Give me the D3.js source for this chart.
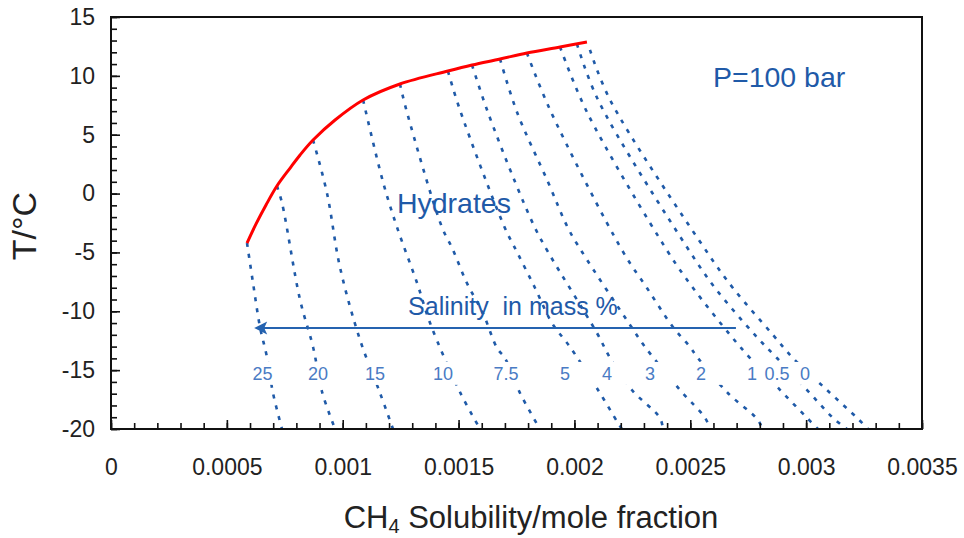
<!DOCTYPE html>
<html>
<head>
<meta charset="utf-8">
<script src="https://cdn.jsdelivr.net/npm/d3@7"></script>
<style>
  body { margin: 0; background: #fff; }
  svg text { font-family: "Liberation Sans", Arial, sans-serif; }
</style>
</head>
<body>
<div id="chart"></div>
<script>
// hydrate / liquid boundary at P = 100 bar  [mole fraction, T degC]
var hydrateCurve = [[0.000587,-4.2],[0.000626,-2.58],[0.000669,-0.97],[0.000716,0.64],[0.000773,2.17],
  [0.000816,3.28],[0.000872,4.55],[0.000967,6.25],[0.001088,7.95],[0.001247,9.31],[0.001454,10.41],
  [0.001558,10.92],[0.001679,11.43],[0.001795,11.94],[0.001938,12.45],[0.002054,12.88]];

// solubility lines for each salinity (mass %)
var sal25 = [[0.000587,-4.2],[0.000613,-7.6],[0.000643,-11.33],[0.000673,-13.88],[0.000699,-16.94],[0.000738,-20]];
var sal20 = [[0.000716,0.64],[0.000738,-0.8],[0.000816,-9.04],[0.000872,-13.03],[0.000911,-16.86],[0.000967,-20]];
var sal15 = [[0.000872,4.55],[0.000932,0.05],[0.000988,-6.24],[0.001075,-12.44],[0.001161,-16.94],[0.001217,-20]];
var sal10 = [[0.001088,7.95],[0.001174,0.98],[0.001234,-2.84],[0.001321,-7.6],[0.001377,-11.0],[0.001506,-16.86],[0.001593,-20]];
var sal7_5 = [[0.001247,9.31],[0.001277,6.93],[0.001428,-2.84],[0.001472,-4.62],[0.001536,-7.6],[0.001605,-10.15],
  [0.001666,-13.12],[0.001700,-13.97],[0.001765,-16.94],[0.001851,-20]];
var sal5 = [[0.001454,10.41],[0.001506,7.1],[0.001700,-2.92],[0.001752,-4.96],[0.001830,-8.02],[0.001903,-11.0],
  [0.001981,-13.03],[0.002102,-16.69],[0.002188,-19.49],[0.002205,-20]];
var sal4 = [[0.001558,10.92],[0.001623,7.1],[0.001744,0.98],[0.001830,-2.92],[0.001886,-4.96],[0.002097,-11.84],
  [0.002154,-13.97],[0.002248,-16.69],[0.002369,-19.06],[0.002382,-20]];
var sal3 = [[0.001679,11.43],[0.001752,6.93],[0.001886,0.98],[0.001972,-2.92],[0.002033,-4.96],[0.002240,-11.16],
  [0.002305,-13.03],[0.002456,-16.69],[0.002564,-19.06],[0.002585,-20]];
var sal2 = [[0.001795,11.94],[0.001895,7.1],[0.002210,-4.96],[0.002313,-8.02],[0.002425,-11.33],[0.002499,-13.03],
  [0.002533,-13.97],[0.002662,-16.94],[0.002792,-19.23],[0.002810,-20]];
var sal1 = [[0.001938,12.45],[0.002054,6.93],[0.002404,-4.96],[0.002512,-8.02],[0.002672,-12.01],[0.002758,-13.97],
  [0.002888,-16.69],[0.003004,-19.06],[0.003051,-20]];
var sal0_5 = [[0.002011,12.7],[0.002102,7.95],[0.002499,-4.96],[0.002607,-8.02],[0.002779,-12.01],[0.002874,-13.97],
  [0.003004,-16.69],[0.003116,-19.06],[0.003176,-20]];
var sal0 = [[0.002067,12.2],[0.002154,7.95],[0.002572,-4.96],[0.002684,-8.02],[0.002857,-12.01],[0.002943,-13.97],
  [0.003090,-16.69],[0.003220,-19.06],[0.003267,-20]];

var salinityLabels = ["25","20","15","10","7.5","5","4","3","2","1","0.5","0"];
var labelX = [0.000654,0.000893,0.001139,0.001433,0.001705,0.001959,0.002141,0.002326,0.002546,0.002766,0.002874,0.002995];
var labelT = -15.25;

var xTicks = [0, 0.0005, 0.001, 0.0015, 0.002, 0.0025, 0.003, 0.0035];
var xTickLabels = ["0","0.0005","0.001","0.0015","0.002","0.0025","0.003","0.0035"];
var yTicks = [-20, -15, -10, -5, 0, 5, 10, 15];
var yTickLabels = ["-20","-15","-10","-5","0","5","10","15"];

var salinityLines = [sal25, sal20, sal15, sal10, sal7_5, sal5, sal4, sal3, sal2, sal1, sal0_5, sal0];

var svgWidth = 964, svgHeight = 538;
var margin = {top: 17, right: 42, bottom: 109, left: 111};
var width = svgWidth - margin.left - margin.right;
var height = svgHeight - margin.top - margin.bottom;

var svg = d3.select("#chart").append("svg")
  .attr("width", svgWidth)
  .attr("height", svgHeight);

var chartGroup = svg.append("g")
  .attr("transform", `translate(${margin.left}, ${margin.top})`);

var x = d3.scaleLinear().domain([0, 0.0035]).range([0, width]);
var y = d3.scaleLinear().domain([-20, 15]).range([height, 0]);

var blue = "#1f5aa8";

// salinity lines (dotted)
var line = d3.line()
  .x(d => x(d[0]))
  .y(d => y(d[1]))
  .curve(d3.curveCatmullRom.alpha(0.5));

chartGroup.append("g").selectAll("path")
  .data(salinityLines)
  .enter()
  .append("path")
  .attr("d", line)
  .attr("fill", "none")
  .attr("stroke", blue)
  .attr("stroke-width", 2.6)
  .attr("stroke-dasharray", "4,7");

// white band behind the salinity numbers
chartGroup.append("rect")
  .attr("x", x(0.000600))
  .attr("y", y(-14.3))
  .attr("width", x(0.003050) - x(0.000600))
  .attr("height", y(-16.25) - y(-14.3))
  .attr("fill", "#fff");

chartGroup.append("g").selectAll("text")
  .data(salinityLabels)
  .enter()
  .append("text")
  .attr("x", (d, i) => x(labelX[i]))
  .attr("y", y(labelT))
  .attr("dy", "0.36em")
  .attr("text-anchor", "middle")
  .attr("fill", "#4a7bc4")
  .style("font-size", "18px")
  .text(d => d);

// hydrate boundary
chartGroup.append("path")
  .datum(hydrateCurve)
  .attr("d", d3.line().x(d => x(d[0])).y(d => y(d[1])).curve(d3.curveCatmullRom.alpha(0.5)))
  .attr("fill", "none")
  .attr("stroke", "#ff0000")
  .attr("stroke-width", 3);

// arrow
var arrowT = -11.42;
chartGroup.append("line")
  .attr("x1", x(0.002697))
  .attr("x2", x(0.000640))
  .attr("y1", y(arrowT))
  .attr("y2", y(arrowT))
  .attr("stroke", "#2563b0")
  .attr("stroke-width", 2);

var tipX = x(0.000618), tipY = y(arrowT);
chartGroup.append("path")
  .attr("d", `M${tipX},${tipY} L${tipX + 13},${tipY - 6.5} L${tipX + 10},${tipY} L${tipX + 13},${tipY + 6.5} Z`)
  .attr("fill", "#2563b0");

// annotations
chartGroup.append("text")
  .attr("x", x(0.001234))
  .attr("y", y(-1.65))
  .attr("fill", blue)
  .style("font-size", "28.5px")
  .text("Hydrates");

chartGroup.append("text")
  .attr("x", x(0.002598))
  .attr("y", y(9.05))
  .attr("fill", blue)
  .style("font-size", "28.5px")
  .text("P=100 bar");

chartGroup.append("text")
  .attr("x", x(0.001282))
  .attr("y", y(-10.32))
  .attr("fill", blue)
  .style("font-size", "25px")
  .style("white-space", "pre")
  .text("Salinity  in mass %");

// axes
var yAxisMinor = d3.axisLeft(y).tickValues(d3.range(-20, 16, 1)).tickSize(-6).tickFormat("");
var yAxis = d3.axisLeft(y).tickValues(yTicks).tickSize(-9).tickPadding(16)
  .tickFormat((d, i) => yTickLabels[i]);
var xAxisMinor = d3.axisBottom(x).tickValues(d3.range(0, 36, 1).map(d => d / 10000)).tickSize(-6).tickFormat("");
var xAxis = d3.axisBottom(x).tickValues(xTicks).tickSize(-9).tickPadding(30)
  .tickFormat((d, i) => xTickLabels[i]);

chartGroup.append("g").call(yAxisMinor);
chartGroup.append("g").classed("y-axis", true).call(yAxis);
chartGroup.append("g").attr("transform", `translate(0, ${height})`).call(xAxisMinor);
chartGroup.append("g").classed("x-axis", true).attr("transform", `translate(0, ${height})`).call(xAxis);

chartGroup.selectAll(".domain").remove();
chartGroup.selectAll(".tick line").attr("stroke", "#111").attr("stroke-width", 1.6);
chartGroup.selectAll(".y-axis text, .x-axis text")
  .style("font-size", "23px")
  .attr("fill", "#222")
  .style("font-family", "'Liberation Sans', Arial, sans-serif");

chartGroup.append("rect")
  .attr("width", width)
  .attr("height", height)
  .attr("fill", "none")
  .attr("stroke", "#111")
  .attr("stroke-width", 2);

// axis titles
var xTitle = svg.append("text")
  .attr("x", 531)
  .attr("y", 528)
  .attr("text-anchor", "middle")
  .attr("fill", "#222")
  .style("font-size", "31px");
xTitle.append("tspan").text("CH");
xTitle.append("tspan").attr("dy", 5).style("font-size", "20px").text("4");
xTitle.append("tspan").attr("dy", -5).text(" Solubility/mole fraction");

svg.append("text")
  .attr("transform", "translate(36, 226) rotate(-90)")
  .attr("text-anchor", "middle")
  .attr("fill", "#222")
  .style("font-size", "34px")
  .text("T/°C");
</script>
</body>
</html>
